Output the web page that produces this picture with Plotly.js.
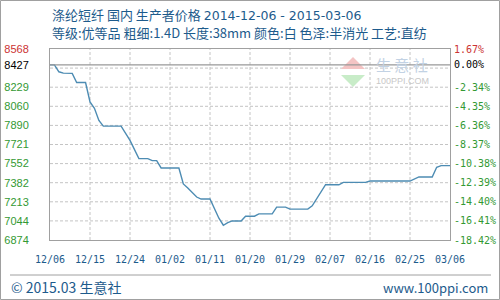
<!DOCTYPE html>
<html>
<head>
<meta charset="utf-8">
<script src="https://cdn.plot.ly/plotly-3.0.1.min.js"></script>
<style>
  html, body { margin: 0; padding: 0; background: #fff; }
  #chart { width: 500px; height: 300px; }
</style>
</head>
<body>
<div id="chart"></div>
<script>
// ---- data ----
var dates = ['2014-12-06','2014-12-07','2014-12-08','2014-12-09','2014-12-11','2014-12-12','2014-12-14','2014-12-15','2014-12-16','2014-12-17',
             '2014-12-18','2014-12-22','2014-12-24','2014-12-26','2014-12-28','2014-12-29','2014-12-30','2014-12-31','2015-01-04','2015-01-05',
             '2015-01-06','2015-01-08','2015-01-09','2015-01-11','2015-01-13','2015-01-14','2015-01-15','2015-01-16','2015-01-18','2015-01-19',
             '2015-01-21','2015-01-22','2015-01-25','2015-01-26','2015-01-28','2015-01-29','2015-02-02','2015-02-03','2015-02-06','2015-02-09',
             '2015-02-10','2015-02-15','2015-02-16','2015-02-25','2015-02-27','2015-03-02','2015-03-03','2015-03-04','2015-03-06'];
var prices = [8427,8427,8366,8354,8352,8271,8271,8098,8042,7935,
              7884,7884,7757,7596,7596,7578,7578,7513,7513,7371,
              7335,7255,7237,7237,7067,7005,7028,7043,7043,7085,
              7085,7106,7106,7166,7166,7148,7148,7177,7364,7364,
              7385,7385,7397,7397,7433,7433,7519,7534,7534];
var basePrice = 8427;
var yMin = 6874, yMax = 8568;
var leftTickVals = [6874, 7044, 7213, 7382, 7552, 7721, 7890, 8060, 8229, 8427, 8568];
var leftTickText = ['6874','7044','7213','7382','7552','7721','7890','8060','8229','8427','8568'];
var rightTickText = ['-18.42%','-16.41%','-14.40%','-12.39%','-10.38%','-8.37%','-6.36%','-4.35%','-2.34%','0.00%','1.67%'];
var gridVals = [7043.4, 7212.8, 7382.2, 7551.6, 7721, 7890.4, 8059.8, 8229.2, 8398.6];
var xTickVals = ['2014-12-06','2014-12-15','2014-12-24','2015-01-02','2015-01-11','2015-01-20','2015-01-29','2015-02-07','2015-02-16','2015-02-25','2015-03-06'];
var xTickText = ['12/06','12/15','12/24','01/02','01/11','01/20','01/29','02/07','02/16','02/25','03/06'];
var titleProduct = '涤纶短纤 国内 生产者价格';
var titleDates = '2014-12-06 - 2015-03-06';
var titleLine2 = '等级:优等品 粗细:1.4D 长度:38mm 颜色:白 色泽:半消光 工艺:直纺';
var footerLeft = '© 2015.03 生意社';
var footerRight = 'www.100ppi.com';

// ---- helpers ----
var PL = 50, PR = 450, PT = 49, PB = 240;
function fx(px) { return (px - PL) / (PR - PL); }
function fy(py) { return (PB - py) / (PB - PT); }
function colorFor(v) { return v > basePrice ? '#cc3333' : (v === basePrice ? '#000000' : '#339933'); }
var leftColored = leftTickText.map(function (t, i) {
  return '<span style="color:' + colorFor(leftTickVals[i]) + '">' + t + '</span>';
});

var blue = '#1d5b8c';
var gridLine = { color: '#c4c4c4', width: 1, dash: '3px,2px' };

var trace = {
  x: dates, y: prices, type: 'scatter', mode: 'lines',
  line: { color: '#4d8cb3', width: 1.4 },
  hoverinfo: 'skip', showlegend: false
};

var annotations = [
  { xref: 'paper', yref: 'paper', x: fx(50), y: fy(15), xanchor: 'left', yanchor: 'middle',
    text: titleProduct + ' <span style="font-family:DejaVu Sans;font-size:12.5px">' + titleDates + '</span>',
    showarrow: false, font: { family: 'Noto Sans CJK SC', size: 13, color: blue } },
  { xref: 'paper', yref: 'paper', x: fx(50), y: fy(33), xanchor: 'left', yanchor: 'middle',
    text: titleLine2, showarrow: false, font: { family: 'Noto Sans CJK SC', size: 13, color: blue } },
  { xref: 'paper', yref: 'paper', x: fx(9), y: fy(287), xanchor: 'left', yanchor: 'middle',
    text: footerLeft, showarrow: false, font: { family: 'Noto Sans CJK SC', size: 14, color: blue } },
  { xref: 'paper', yref: 'paper', x: fx(490), y: fy(287), xanchor: 'right', yanchor: 'middle',
    text: footerRight, showarrow: false, font: { family: 'Noto Sans CJK SC', size: 13, color: blue } },
  { xref: 'paper', yref: 'paper', x: fx(402), y: fy(64), xanchor: 'center', yanchor: 'middle',
    text: '生 意 社', showarrow: false, font: { family: 'Noto Sans CJK SC', size: 15, color: '#c2d2e4' } },
  { xref: 'paper', yref: 'paper', x: fx(402), y: fy(81), xanchor: 'center', yanchor: 'middle',
    text: '100PPI.COM', showarrow: false, font: { family: 'Liberation Sans, Arial', size: 9, color: '#c8c8c8' } }
];
// right-hand percent labels, placed on the price scale
rightTickText.forEach(function (t, i) {
  annotations.push({ xref: 'paper', yref: 'y', x: 1, y: leftTickVals[i], xanchor: 'left', yanchor: 'middle',
    xshift: 2, text: t, showarrow: false,
    font: { family: 'DejaVu Sans Mono', size: 10, color: colorFor(leftTickVals[i]) } });
});

var shapes = [];
// dashed grid, placed through the axes' own scales
gridVals.forEach(function (v) {
  shapes.push({ type: 'line', layer: 'below', xref: 'paper', yref: 'y', x0: 0, x1: 1, y0: v, y1: v, line: gridLine });
});
xTickVals.slice(1, -1).forEach(function (d) {
  shapes.push({ type: 'line', layer: 'below', xref: 'x', yref: 'paper', x0: d, x1: d, y0: 0, y1: 1, line: gridLine });
});
shapes.push(
  { type: 'line', xref: 'paper', yref: 'y', x0: 0, x1: 1, y0: basePrice, y1: basePrice,
    line: { color: '#999999', width: 1.3 } },
  { type: 'line', xref: 'paper', yref: 'paper', x0: fx(10), x1: fx(491), y0: fy(275), y1: fy(275),
    line: { color: '#a0a0a0', width: 1 } },
  { type: 'rect', xref: 'paper', yref: 'paper', x0: fx(0.5), x1: fx(499.5), y0: fy(0.5), y1: fy(299.5),
    line: { color: '#a0a0a0', width: 1 }, fillcolor: 'rgba(0,0,0,0)' },
  { type: 'path', xref: 'paper', yref: 'paper', layer: 'below',
    path: 'M' + fx(341) + ',' + fy(69) + ' L' + fx(353) + ',' + fy(57) + ' L' + fx(365) + ',' + fy(69) + ' Z',
    fillcolor: '#f4c4c4', line: { width: 0 } },
  { type: 'path', xref: 'paper', yref: 'paper', layer: 'below',
    path: 'M' + fx(341) + ',' + fy(75) + ' L' + fx(353) + ',' + fy(87) + ' L' + fx(365) + ',' + fy(75) + ' Z',
    fillcolor: '#c8ecc8', line: { width: 0 } }
);

var layout = {
  width: 500, height: 300,
  margin: { l: PL, r: 500 - PR, t: PT, b: 300 - PB },
  paper_bgcolor: '#ffffff', plot_bgcolor: '#ffffff',
  showlegend: false,
  xaxis: {
    type: 'date', range: ['2014-12-06', '2015-03-06'],
    tickvals: xTickVals, ticktext: xTickText, ticks: '',
    tickfont: { family: 'DejaVu Sans Mono', size: 10, color: blue },
    ticklabelstandoff: 10,
    showgrid: false,
    showline: true, linecolor: '#a0a0a0', linewidth: 1, mirror: true,
    zeroline: false
  },
  yaxis: {
    range: [yMin, yMax], tickvals: leftTickVals, ticktext: leftColored, ticks: '',
    tickfont: { family: 'Liberation Sans, Arial', size: 11, color: '#339933' },
    ticklabelstandoff: 18,
    showgrid: false,
    showline: true, linecolor: '#a0a0a0', linewidth: 1, mirror: true,
    zeroline: false
  },
  shapes: shapes,
  annotations: annotations
};

Plotly.newPlot('chart', [trace], layout, { staticPlot: true, displayModeBar: false });
</script>
</body>
</html>
